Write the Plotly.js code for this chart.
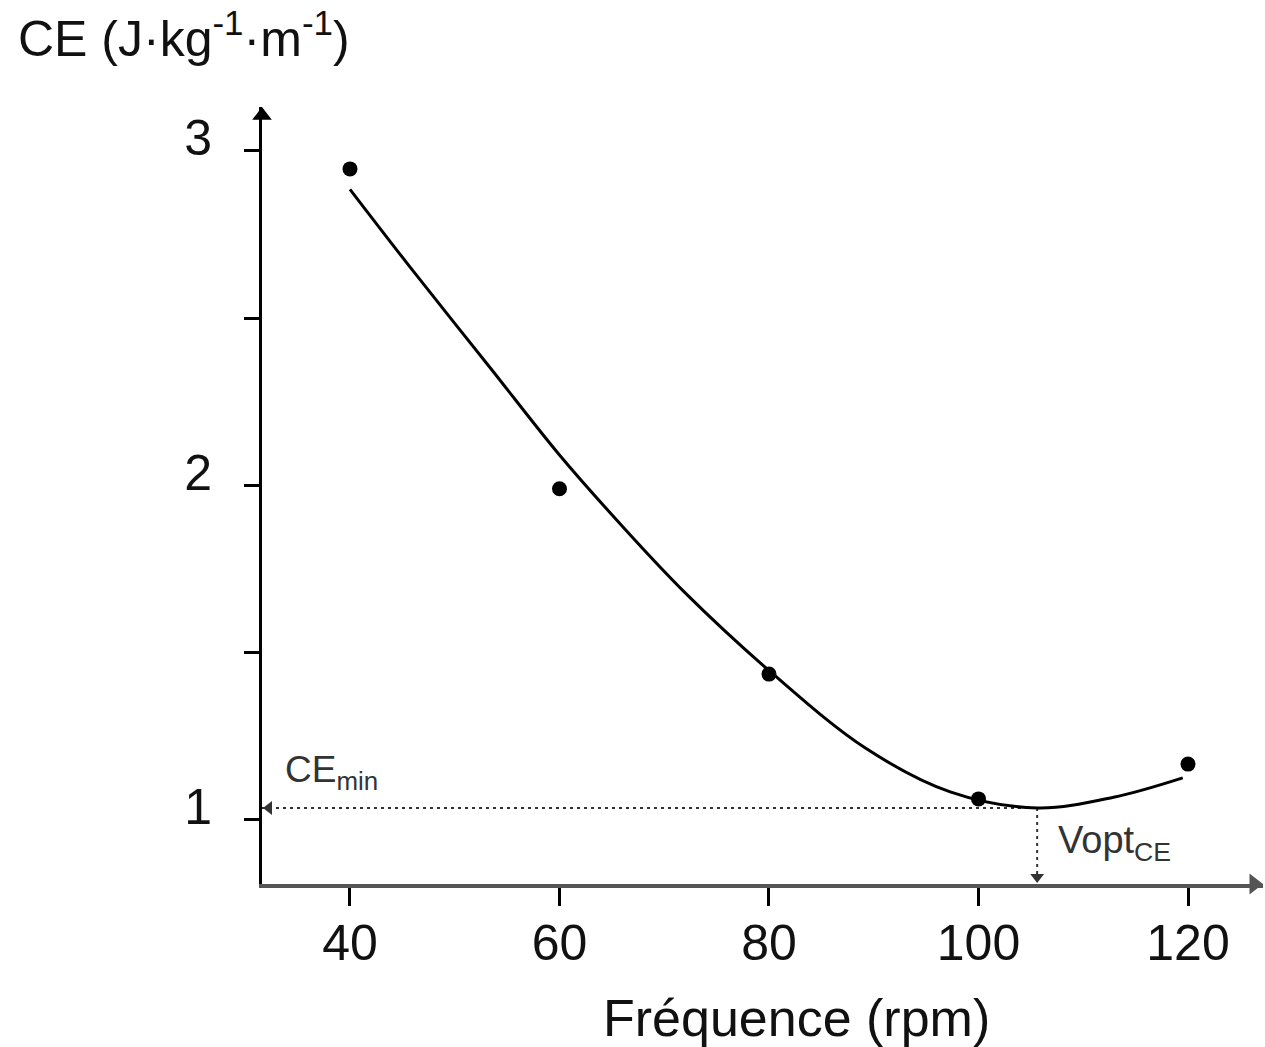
<!DOCTYPE html>
<html>
<head>
<meta charset="utf-8">
<script src="https://cdn.plot.ly/plotly-3.0.1.min.js"></script>
<style>
  html, body { margin: 0; padding: 0; background: #fff; }
  #chart { width: 1265px; height: 1047px; }
</style>
</head>
<body>
<div id="chart"></div>
<script>
// Measured points
const freq = [40, 60, 80, 100, 120];
const ce = [2.946, 1.99, 1.436, 1.063, 1.167];

// Fitted curve
const fitFreq = [40, 45.7, 53.4, 60, 66, 72, 80.4, 89.2, 97.3, 105.6, 112.9, 119.5];
const fitCE = [2.885, 2.654, 2.351, 2.091, 1.878, 1.679, 1.436, 1.215, 1.084, 1.036, 1.068, 1.126];

// Optimum
const voptCE = 105.6;
const ceMin = 1.036;

// Ticks
const xTickVals = [40, 60, 80, 100, 120];
const xTickText = ['40', '60', '80', '100', '120'];
const yTickVals = [1, 2, 3];
const yTickText = ['1', '2', '3'];
const yMinorVals = [1.5, 2.5];

const xRange = [31.6, 127.16];
const yRange = [0.8087, 3.131];

const FONT = '"Liberation Sans", Arial, Helvetica, sans-serif';

// pixel scale of the axes (plot area 1001 x 777 px)
const pxX = 1001 / (xRange[1] - xRange[0]);
const pxY = 777 / (yRange[1] - yRange[0]);

// arrowheads: axis ends and ends of the dotted guides
const arrowSize = [17, 18, 12, 12];
const arrowSymbol = ['triangle-up', 'triangle-right', 'triangle-left', 'triangle-down'];
const arrowColor = ['#000', '#555', '#333', '#333'];
const arrowX = [xRange[0], xRange[1] - 9 / pxX, xRange[0] + 7 / pxX, voptCE];
const arrowY = [yRange[1] - 8.5 / pxY, yRange[0], ceMin, yRange[0] + 7 / pxY];

const traces = [
  {
    x: [xRange[0], voptCE], y: [ceMin, ceMin],
    mode: 'lines', line: {color: '#333', width: 2, dash: '3px,4px'},
    hoverinfo: 'skip', showlegend: false, cliponaxis: false
  },
  {
    x: [voptCE, voptCE], y: [ceMin, yRange[0]],
    mode: 'lines', line: {color: '#333', width: 2, dash: '3px,4px'},
    hoverinfo: 'skip', showlegend: false, cliponaxis: false
  },
  {
    x: fitFreq, y: fitCE,
    mode: 'lines', line: {color: '#000', width: 3, shape: 'spline', smoothing: 1},
    showlegend: false
  },
  {
    x: freq, y: ce,
    mode: 'markers', marker: {color: '#000', size: 15, opacity: 1},
    showlegend: false
  },
  {
    x: arrowX, y: arrowY,
    mode: 'markers',
    marker: {symbol: arrowSymbol, size: arrowSize, color: arrowColor, opacity: 1, line: {width: 0}},
    hoverinfo: 'skip', showlegend: false, cliponaxis: false
  }
];

const layout = {
  width: 1265, height: 1047,
  paper_bgcolor: '#fff', plot_bgcolor: '#fff',
  margin: {l: 262, r: 2, t: 107, b: 163},
  font: {family: FONT, color: '#111'},
  title: {
    text: 'CE (J·kg<sup>-1</sup>·m<sup>-1</sup>)',
    font: {family: FONT, size: 50, color: '#111'},
    x: 18 / 1265, xref: 'container', xanchor: 'left',
    y: 0.98, yref: 'container', yanchor: 'top'
  },
  xaxis: {
    range: xRange, showgrid: false, zeroline: false,
    showline: true, linecolor: '#555', linewidth: 4,
    tickvals: xTickVals, ticktext: xTickText,
    ticks: 'outside', ticklen: 18, tickwidth: 3, tickcolor: '#000',
    tickfont: {family: FONT, size: 50, color: '#111'},
    ticklabelstandoff: -6
  },
  yaxis: {
    range: yRange, showgrid: false, zeroline: false,
    showline: true, linecolor: '#000', linewidth: 3,
    tickvals: yTickVals, ticktext: yTickText,
    ticks: 'outside', ticklen: 15, tickwidth: 3, tickcolor: '#000',
    tickfont: {family: FONT, size: 50, color: '#111'},
    ticklabelstandoff: 22, ticklabelshift: -13,
    minor: {tickvals: yMinorVals, ticks: 'outside', ticklen: 15, tickwidth: 3, tickcolor: '#000', showgrid: false}
  },
  annotations: [
    {
      text: 'Fréquence (rpm)', xref: 'paper', yref: 'paper',
      x: 0.5335, y: -0.132, xanchor: 'center', yanchor: 'top',
      showarrow: false, font: {family: FONT, size: 52, color: '#111'}
    },
    {
      text: 'CE<sub>min</sub>', xref: 'x', yref: 'y',
      x: 33.6, y: 1.07, xanchor: 'left', yanchor: 'bottom',
      showarrow: false, font: {family: FONT, size: 37, color: '#333'}
    },
    {
      text: 'Vopt<sub>CE</sub>', xref: 'x', yref: 'y',
      x: 107.4, y: 1.008, xanchor: 'left', yanchor: 'top',
      showarrow: false, font: {family: FONT, size: 38, color: '#333'}
    }
  ]
};

Plotly.newPlot('chart', traces, layout, {displayModeBar: false, staticPlot: true});
</script>
</body>
</html>
